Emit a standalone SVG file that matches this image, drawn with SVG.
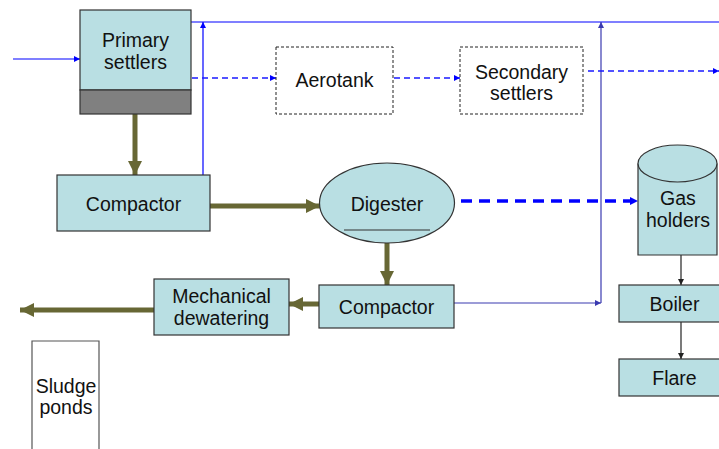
<svg xmlns="http://www.w3.org/2000/svg" width="719" height="449" viewBox="0 0 719 449">
<style>
.box{fill:#b9dfe3;stroke:#333;stroke-width:1.2}
.dbox{fill:#fff;stroke:#222;stroke-width:1;stroke-dasharray:3,2}
.t{font-family:"Liberation Sans",Arial,sans-serif;font-size:19.5px;fill:#111;text-anchor:middle}
.olive{stroke:#676734;stroke-width:5;fill:none}
.blue{stroke:#0000ff;stroke-width:1.2;fill:none}
.purple{stroke:#3a3ab0;stroke-width:1.2;fill:none}
.bdash{stroke:#1a1aff;stroke-width:1.4;fill:none;stroke-dasharray:6,4}
.bdash2{stroke:#0000ff;stroke-width:3.5;fill:none;stroke-dasharray:11,7}
.black{stroke:#222;stroke-width:1.2;fill:none}
</style>
<defs>
<marker id="ao" viewBox="0 0 10 10" refX="10" refY="5" markerWidth="2.8" markerHeight="2.8" orient="auto" markerUnits="strokeWidth"><path d="M0,0L10,5L0,10z" fill="#676734"/></marker>
<marker id="ab" viewBox="0 0 10 10" refX="10" refY="5" markerWidth="6" markerHeight="6" orient="auto" markerUnits="userSpaceOnUse"><path d="M0,0L10,5L0,10z" fill="#0000ff"/></marker>
<marker id="ap" viewBox="0 0 10 10" refX="10" refY="5" markerWidth="6" markerHeight="6" orient="auto" markerUnits="userSpaceOnUse"><path d="M0,0L10,5L0,10z" fill="#3a3ab0"/></marker>
<marker id="ab2" viewBox="0 0 10 10" refX="10" refY="5" markerWidth="8" markerHeight="8" orient="auto" markerUnits="userSpaceOnUse"><path d="M0,0L10,5L0,10z" fill="#0000ff"/></marker>
<marker id="ak" viewBox="0 0 10 10" refX="10" refY="5" markerWidth="6" markerHeight="6" orient="auto" markerUnits="userSpaceOnUse"><path d="M0,0L10,5L0,10z" fill="#222"/></marker>
</defs>
<g id="connectors">
<path class="blue" d="M13,59H80" marker-end="url(#ab)"/>
<path class="blue" d="M191,22H719"/>
<path class="blue" d="M203,175V22" marker-end="url(#ab)"/>
<path class="purple" d="M454,303H601" marker-end="url(#ap)"/>
<path class="purple" d="M601,303V22" marker-end="url(#ap)"/>
<path class="bdash" d="M192,78H276" marker-end="url(#ab)"/>
<path class="bdash" d="M394,78H460" marker-end="url(#ab)"/>
<path class="bdash" d="M588,71H719" marker-end="url(#ab)"/>
<path class="olive" d="M135,114V175" marker-end="url(#ao)"/>
<path class="olive" d="M210,206H320" marker-end="url(#ao)"/>
<path class="olive" d="M387,243V285" marker-end="url(#ao)"/>
<path class="olive" d="M319,304H289" marker-end="url(#ao)"/>
<path class="olive" d="M154,310H20" marker-end="url(#ao)"/>
<path class="bdash2" d="M461,201H638" marker-end="url(#ab2)"/>
<path class="black" d="M681,255V285" marker-end="url(#ak)"/>
<path class="black" d="M681,322V359" marker-end="url(#ak)"/>
</g>
<g id="primary-settlers">
<rect class="box" x="80" y="10" width="111" height="80"/>
<rect x="80" y="90" width="111" height="24" fill="#808080" stroke="#333" stroke-width="1.2"/>
<text class="t" x="135.5" y="47">Primary</text>
<text class="t" x="135.5" y="68.5">settlers</text>
</g>
<g id="aerotank">
<rect class="dbox" x="276" y="47" width="117" height="67"/>
<text class="t" x="334.5" y="87">Aerotank</text>
</g>
<g id="secondary-settlers">
<rect class="dbox" x="460" y="47" width="123" height="67"/>
<text class="t" x="521.5" y="79">Secondary</text>
<text class="t" x="521.5" y="100">settlers</text>
</g>
<g id="compactor1">
<rect class="box" x="57" y="175" width="153" height="56"/>
<text class="t" x="133.5" y="211">Compactor</text>
</g>
<g id="digester">
<ellipse class="box" cx="387" cy="203" rx="67.5" ry="40"/>
<line x1="344" y1="230" x2="430" y2="230" stroke="#333" stroke-width="1.2"/>
<text class="t" x="387" y="211">Digester</text>
</g>
<g id="gas-holders">
<path class="box" d="M638,163.5V255H717V163.5"/>
<ellipse class="box" cx="677.5" cy="163.5" rx="39.5" ry="18.5"/>
<text class="t" x="678" y="205">Gas</text>
<text class="t" x="678" y="227">holders</text>
</g>
<g id="boiler">
<rect class="box" x="619" y="285" width="110" height="37"/>
<text class="t" x="674.5" y="311">Boiler</text>
</g>
<g id="flare">
<rect class="box" x="619" y="359" width="110" height="37"/>
<text class="t" x="674.5" y="384.5">Flare</text>
</g>
<g id="compactor2">
<rect class="box" x="319" y="285" width="135" height="43"/>
<text class="t" x="386.5" y="314">Compactor</text>
</g>
<g id="mechanical-dewatering">
<rect class="box" x="154" y="279" width="135" height="56"/>
<text class="t" x="221.5" y="303">Mechanical</text>
<text class="t" x="221.5" y="325">dewatering</text>
</g>
<g id="sludge-ponds">
<path d="M32,449V341H99V449" fill="#fff" stroke="#555" stroke-width="1.2"/>
<text class="t" x="66" y="392.5">Sludge</text>
<text class="t" x="66" y="414">ponds</text>
</g>
</svg>
